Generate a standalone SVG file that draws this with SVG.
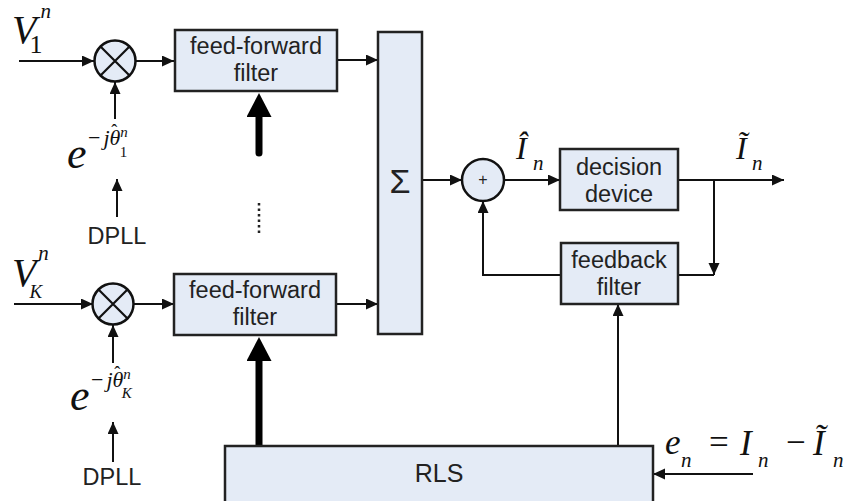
<svg xmlns="http://www.w3.org/2000/svg" width="846" height="501" viewBox="0 0 846 501">
  <defs>
    <marker id="arr" markerUnits="userSpaceOnUse" markerWidth="13" markerHeight="12" refX="12" refY="5.5" orient="auto">
      <path d="M0,0 L12,5.5 L0,11 z" fill="#111"/>
    </marker>
    <marker id="arrBold" markerUnits="userSpaceOnUse" markerWidth="25" markerHeight="26" refX="0" refY="12.5" orient="auto">
      <path d="M0,0 L24,12.5 L0,25 z" fill="#000"/>
    </marker>
    <style>
      .box { fill: #e4ebf6; stroke: #222; stroke-width: 2.5; }
      .ring { fill: #e4ebf6; stroke: #111; stroke-width: 2.5; }
      .wire { fill: none; stroke: #111; stroke-width: 2; }
      .bold { fill: none; stroke: #000; stroke-width: 7; stroke-linecap: round; }
      .lbl { font-family: "Liberation Sans", Arial, sans-serif; font-size: 23.5px; fill: #222; text-anchor: middle; }
      .math { font-family: "Liberation Serif", "Times New Roman", serif; fill: #111; }
      .it { font-style: italic; }
    </style>
  </defs>

  <!-- connectors -->
  <g id="connectors">
    <!-- branch 1 -->
    <path class="wire" d="M19,61 H94" marker-end="url(#arr)"/>
    <path class="wire" d="M136,61 H174" marker-end="url(#arr)"/>
    <path class="wire" d="M115,119 V82" marker-end="url(#arr)"/>
    <path class="wire" d="M117,217 V179" marker-end="url(#arr)"/>
    <path class="wire" d="M337,60 H378" marker-end="url(#arr)"/>
    <path class="bold" d="M259,153 V117" marker-end="url(#arrBold)"/>
    <!-- ellipsis between branches -->
    <path d="M259,203 V236" fill="none" stroke="#222" stroke-width="2.5" stroke-dasharray="2.5,3"/>
    <!-- branch K -->
    <path class="wire" d="M14,304 H93" marker-end="url(#arr)"/>
    <path class="wire" d="M133,304 H174" marker-end="url(#arr)"/>
    <path class="wire" d="M113,363 V325" marker-end="url(#arr)"/>
    <path class="wire" d="M113,462 V422" marker-end="url(#arr)"/>
    <path class="wire" d="M337,304 H378" marker-end="url(#arr)"/>
    <path class="bold" d="M259,447 V361" marker-end="url(#arrBold)"/>
    <!-- sum, decision, feedback -->
    <path class="wire" d="M422,180 H462" marker-end="url(#arr)"/>
    <path class="wire" d="M504,180 H560" marker-end="url(#arr)"/>
    <path class="wire" d="M678,180 H784" marker-end="url(#arr)"/>
    <path class="wire" d="M714,180 V275" marker-end="url(#arr)"/>
    <path class="wire" d="M714,275 H678"/>
    <path class="wire" d="M561,275 H483 V201" marker-end="url(#arr)"/>
    <path class="wire" d="M618,446 V304" marker-end="url(#arr)"/>
    <path class="wire" d="M753,474 H653" marker-end="url(#arr)"/>
  </g>

  <!-- mixer 1 -->
  <g id="mixer1">
    <circle class="ring" cx="115" cy="61" r="20.5"/>
    <path d="M100.5,46.5 L129.5,75.5 M129.5,46.5 L100.5,75.5" stroke="#111" stroke-width="2.2"/>
  </g>
  <g id="input1">
    <text class="math it" x="12" y="43" font-size="40">V<tspan font-style="normal" font-size="26" dx="-7" dy="10">1</tspan><tspan font-size="21" dx="-2" dy="-35">n</tspan></text>
  </g>
  <g id="phase1">
    <text class="math it" x="67" y="168" font-size="44">e</text>
    <text class="math" x="88" y="145" font-size="22">−<tspan class="it" dx="3">j</tspan><tspan class="it">θ</tspan><tspan font-size="18" dx="-9" dy="-8">ˆ</tspan><tspan class="it" font-size="15" dx="3" dy="0">n</tspan><tspan font-size="15" dx="-8" dy="20">1</tspan></text>
  </g>
  <g id="dpll1"><text class="lbl" x="117" y="244">DPLL</text></g>

  <!-- mixer K -->
  <g id="mixerK">
    <circle class="ring" cx="113" cy="304" r="20.5"/>
    <path d="M98.5,289.5 L127.5,318.5 M127.5,289.5 L98.5,318.5" stroke="#111" stroke-width="2.2"/>
  </g>
  <g id="inputK">
    <text class="math it" x="12" y="286" font-size="40">V<tspan font-size="19" dx="-7" dy="12">K</tspan><tspan font-size="21" dx="-4" dy="-38">n</tspan></text>
  </g>
  <g id="phaseK">
    <text class="math it" x="70" y="410" font-size="44">e</text>
    <text class="math" x="91" y="387" font-size="22">−<tspan class="it" dx="3">j</tspan><tspan class="it">θ</tspan><tspan font-size="18" dx="-9" dy="-8">ˆ</tspan><tspan class="it" font-size="15" dx="3" dy="0">n</tspan><tspan class="it" font-size="15" dx="-9" dy="19">K</tspan></text>
  </g>
  <g id="dpllK"><text class="lbl" x="112" y="485">DPLL</text></g>

  <!-- filters -->
  <g id="ff1">
    <rect class="box" x="175" y="30" width="162" height="61"/>
    <text class="lbl" x="256" y="54">feed-forward</text>
    <text class="lbl" x="256" y="81">filter</text>
  </g>
  <g id="ffK">
    <rect class="box" x="174" y="274" width="162" height="61"/>
    <text class="lbl" x="255" y="298">feed-forward</text>
    <text class="lbl" x="255" y="325">filter</text>
  </g>

  <!-- combiner -->
  <g id="sigma">
    <rect class="box" x="378" y="32" width="44" height="302"/>
    <text class="lbl" x="400" y="193" style="font-size:34px">Σ</text>
  </g>
  <g id="adder">
    <circle class="ring" cx="483" cy="180" r="21"/>
    <text class="lbl" x="483" y="185" style="font-size:16px">+</text>
  </g>
  <g id="estimate">
    <text class="math it" x="516" y="159" font-size="32">Î<tspan font-size="21" x="533" dy="11">n</tspan></text>
  </g>

  <g id="decision">
    <rect class="box" x="560" y="149" width="118" height="61"/>
    <text class="lbl" x="619" y="175">decision</text>
    <text class="lbl" x="619" y="202">device</text>
  </g>
  <g id="decided">
    <text class="math it" x="736" y="159" font-size="32">Ĩ<tspan font-size="21" x="752" dy="11">n</tspan></text>
  </g>

  <g id="feedback">
    <rect class="box" x="561" y="243" width="117" height="61"/>
    <text class="lbl" x="619" y="268">feedback</text>
    <text class="lbl" x="619" y="295">filter</text>
  </g>

  <g id="rls">
    <rect class="box" x="225" y="446" width="428" height="70"/>
    <text class="lbl" x="439" y="482" style="font-size:25px">RLS</text>
  </g>
  <g id="error">
    <text class="math it" x="665" y="454" font-size="35">e<tspan font-size="21" x="681" y="467">n</tspan><tspan font-style="normal" x="709" y="454">=</tspan><tspan x="740" y="455">I</tspan><tspan font-size="21" x="758" y="467">n</tspan><tspan font-style="normal" x="786" y="454">−</tspan><tspan x="813" y="455">Ĩ</tspan><tspan font-size="21" x="833" y="467">n</tspan></text>
  </g>
</svg>
